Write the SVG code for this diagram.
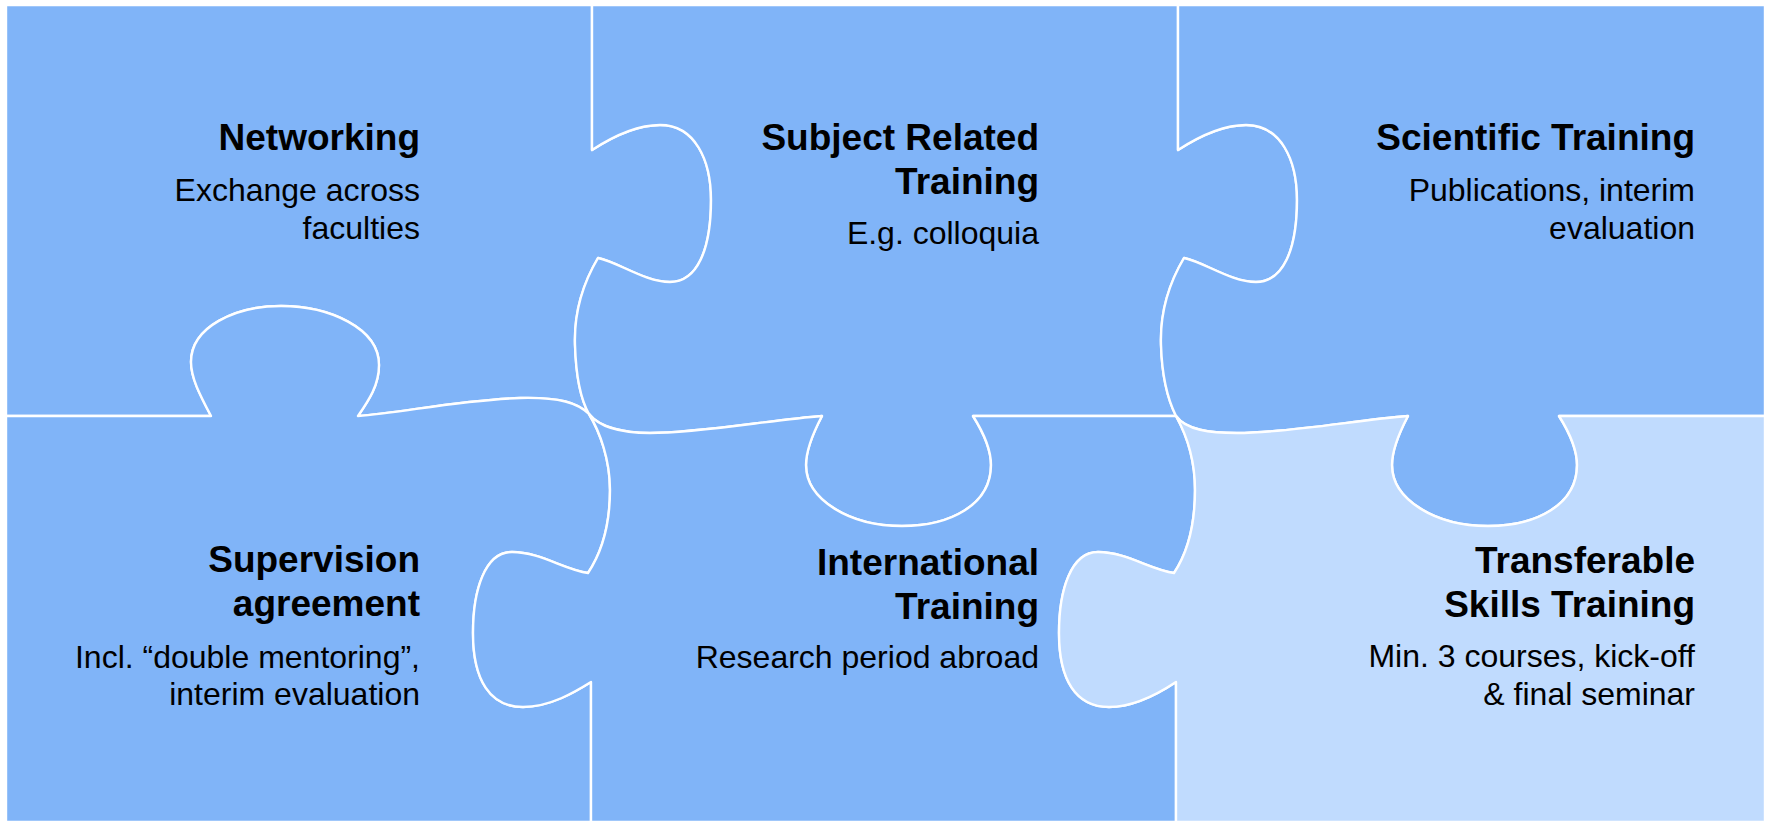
<svg xmlns="http://www.w3.org/2000/svg" width="1765" height="822" viewBox="0 0 1765 822">
<style>
.pc{fill:#80B4F8;stroke:#FFFFFF;stroke-width:2.4;stroke-linejoin:round}
.lt{fill:#C0DBFE}
.t{font-family:"Liberation Sans",Arial,sans-serif;font-weight:bold;font-size:37px;fill:#000;text-anchor:end}
.s{font-family:"Liberation Sans",Arial,sans-serif;font-size:32px;fill:#000;text-anchor:end}
</style>
<rect x="0" y="0" width="1765" height="822" fill="#FFFFFF"/>
<g id="networking">
<path class="pc" d="M6,5 L592,5 L592,150 C612,137 638,125 660,125 C695,125 711,160 711,200 C711,250 697,282 670,282 C645,282 618,262 598,258 C582,285 574,315 575,345 C576,378 581,400 589,414 C578,403 560,397 520,398 C460,400 400,413 358,416 C369,400 379,385 379,365 C379,328 329,306 281,306 C235,306 191,327 191,362 C191,378 200,395 211,416 L6,416 Z"/>
<text class="t" x="420" y="150">Networking</text>
<text class="s" x="420" y="201">Exchange across</text>
<text class="s" x="420" y="239">faculties</text>
</g>
<g id="subject-related">
<path class="pc" d="M592,5 L1178,5 L1178,150 C1198,137 1224,125 1246,125 C1281,125 1297,160 1297,200 C1297,250 1283,282 1256,282 C1231,282 1204,262 1184,258 C1168,285 1160,315 1161,345 C1162,378 1168,400 1176,416 L973,416 C985,435 991,450 991,465 C991,505 950,526 902,526 C850,526 806,500 806,465 C806,450 812,435 822,416 C770,420 700,433 650,433 C625,433 600,428 589,414 C581,400 576,378 575,345 C574,315 582,285 598,258 C618,262 645,282 670,282 C697,282 711,250 711,200 C711,160 695,125 660,125 C638,125 612,137 592,150 Z"/>
<text class="t" x="1039" y="150">Subject Related</text>
<text class="t" x="1039" y="194">Training</text>
<text class="s" x="1039" y="244">E.g. colloquia</text>
</g>
<g id="scientific">
<path class="pc" d="M1178,5 L1765,5 L1765,416 L1559,416 C1571,435 1577,450 1577,465 C1577,505 1536,526 1488,526 C1436,526 1392,500 1392,465 C1392,450 1398,435 1408,416 C1357,420 1288,433 1237,433 C1210,433 1186,430 1176,416 C1168,400 1162,378 1161,345 C1160,315 1168,285 1184,258 C1204,262 1231,282 1256,282 C1283,282 1297,250 1297,200 C1297,160 1281,125 1246,125 C1224,125 1198,137 1178,150 Z"/>
<text class="t" x="1695" y="150">Scientific Training</text>
<text class="s" x="1695" y="201">Publications, interim</text>
<text class="s" x="1695" y="239">evaluation</text>
</g>
<g id="supervision">
<path class="pc" d="M6,416 L211,416 C200,395 191,378 191,362 C191,327 235,306 281,306 C329,306 379,328 379,365 C379,385 369,400 358,416 C400,413 460,400 520,398 C560,397 578,403 589,414 C600,432 610,460 610,490 C610,530 600,555 588,573 C565,570 540,552 512,552 C485,552 473,590 473,633 C473,680 490,707 523,707 C550,707 575,692 591,682 L591,822 L6,822 Z"/>
<text class="t" x="420" y="572">Supervision</text>
<text class="t" x="420" y="616">agreement</text>
<text class="s" x="420" y="668">Incl. “double mentoring”,</text>
<text class="s" x="420" y="705">interim evaluation</text>
</g>
<g id="international">
<path class="pc" d="M589,414 C600,428 625,433 650,433 C700,433 770,420 822,416 C812,435 806,450 806,465 C806,500 850,526 902,526 C950,526 991,505 991,465 C991,450 985,435 973,416 L1176,416 C1186,434 1195,460 1195,490 C1195,530 1186,555 1174,573 C1151,570 1126,552 1098,552 C1071,552 1059,590 1059,633 C1059,680 1076,707 1109,707 C1136,707 1161,692 1176,682 L1176,822 L591,822 L591,682 C575,692 550,707 523,707 C490,707 473,680 473,633 C473,590 485,552 512,552 C540,552 565,570 588,573 C600,555 610,530 610,490 C610,460 600,432 589,414 Z"/>
<text class="t" x="1039" y="575">International</text>
<text class="t" x="1039" y="619">Training</text>
<text class="s" x="1039" y="668">Research period abroad</text>
</g>
<g id="transferable">
<path class="pc lt" d="M1176,416 C1186,430 1210,433 1237,433 C1288,433 1357,420 1408,416 C1398,435 1392,450 1392,465 C1392,500 1436,526 1488,526 C1536,526 1577,505 1577,465 C1577,450 1571,435 1559,416 L1765,416 L1765,822 L1176,822 L1176,682 C1161,692 1136,707 1109,707 C1076,707 1059,680 1059,633 C1059,590 1071,552 1098,552 C1126,552 1151,570 1174,573 C1186,555 1195,530 1195,490 C1195,460 1186,434 1176,416 Z"/>
<text class="t" x="1695" y="573">Transferable</text>
<text class="t" x="1695" y="617">Skills Training</text>
<text class="s" x="1695" y="667">Min. 3 courses, kick-off</text>
<text class="s" x="1695" y="705">&amp; final seminar</text>
</g>
<g id="connectors"></g>
</svg>
